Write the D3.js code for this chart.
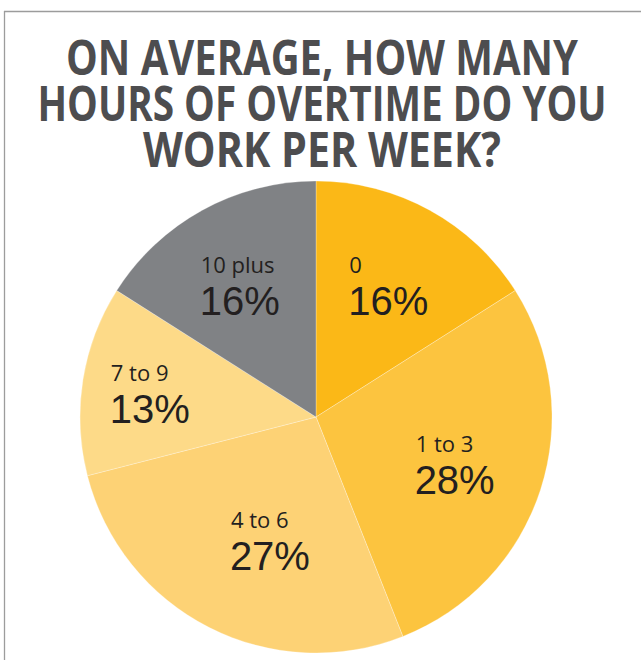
<!DOCTYPE html>
<html>
<head>
<meta charset="utf-8">
<script src="https://cdn.jsdelivr.net/npm/d3@7"></script>
<style>
  html, body { margin: 0; padding: 0; background: #fff; }
  svg { display: block; }
</style>
</head>
<body>
<svg id="chart" width="641" height="660"></svg>
<script>
// Survey answers: weekly overtime hours
const categories = ["0", "1 to 3", "4 to 6", "7 to 9", "10 plus"];
const shares = [16, 28, 27, 13, 16];
const sliceColors = ["#FBB817", "#FCC43F", "#FDD275", "#FDDA88", "#808285"];
const titleLines = ["ON AVERAGE, HOW MANY", "HOURS OF OVERTIME DO YOU", "WORK PER WEEK?"];

const W = 641, H = 660;
const svg = d3.select("#chart");

// Frame lines along the top and left edges
svg.append("line")
  .attr("x1", 4).attr("y1", 11.5).attr("x2", W).attr("y2", 11.5)
  .attr("stroke", "#9c9c9c").attr("stroke-width", 1.3);
svg.append("line")
  .attr("x1", 4.5).attr("y1", 11).attr("x2", 4.5).attr("y2", H)
  .attr("stroke", "#9c9c9c").attr("stroke-width", 1.3);

// Title, condensed to fit each line's width
const titleWidths = [512, 569, 358];
const title = svg.append("g")
  .attr("font-family", "'Open Sans', 'Noto Sans', sans-serif")
  .attr("font-weight", 700)
  .attr("font-size", 48)
  .attr("fill", "#4D4D4F")
  .attr("text-anchor", "middle");
titleLines.forEach((line, i) => {
  title.append("text")
    .attr("x", 322)
    .attr("y", 75 + i * 46)
    .attr("textLength", titleWidths[i])
    .attr("lengthAdjust", "spacingAndGlyphs")
    .text(line);
});

// Pie
const cx = 316, cy = 417, radius = 236;
const data = categories.map((c, i) => ({ category: c, value: shares[i], color: sliceColors[i] }));
const pie = d3.pie().value(d => d.value).sort(null);
const arcs = pie(data);
const arc = d3.arc().innerRadius(0).outerRadius(radius);
const labelArc = d3.arc().innerRadius(150).outerRadius(150);

const g = svg.append("g").attr("transform", `translate(${cx},${cy})`);
g.selectAll("path.slice")
  .data(arcs)
  .join("path")
  .attr("class", "slice")
  .attr("d", arc)
  .attr("fill", d => d.data.color)
  .attr("stroke", "#ffffff")
  .attr("stroke-opacity", 0.35)
  .attr("stroke-width", 0.8);

// Labels: category name above the percentage, left-aligned as a block
const nudge = { "1 to 3": [-4, 2], "4 to 6": [22, -10], "7 to 9": [-18, 0], "10 plus": [-4, 0] };
const labels = g.selectAll("g.label")
  .data(arcs)
  .join("g")
  .attr("class", "label");

labels.each(function (d) {
  const lg = d3.select(this);
  const pct = lg.append("text")
    .attr("font-family", "'Liberation Sans', Arial, sans-serif")
    .attr("font-size", 40)
    .attr("fill", "#231F20")
    .text(d.data.value + "%");
  const name = lg.append("text")
    .attr("font-family", "'Open Sans', 'Noto Sans', sans-serif")
    .attr("font-size", 22)
    .attr("fill", "#231F20")
    .text(d.data.category);
  const w = pct.node().getComputedTextLength();
  const [mx, my] = labelArc.centroid(d);
  const [nx, ny] = nudge[d.data.category] || [0, 0];
  const left = mx + nx - w / 2;
  const top = my + ny - 29;
  name.attr("x", left + 1).attr("y", top + 16);
  pct.attr("x", left).attr("y", top + 58);
});
</script>
</body>
</html>
